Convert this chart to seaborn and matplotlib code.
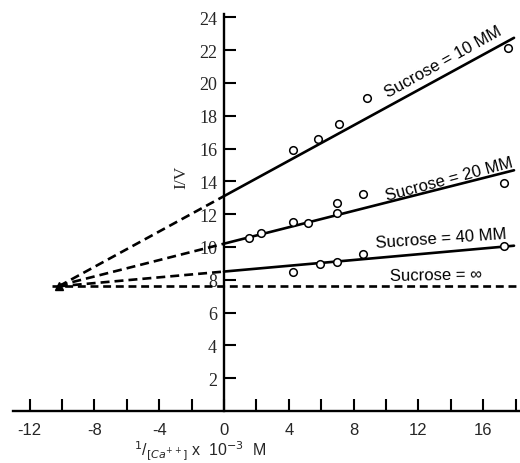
import matplotlib
matplotlib.use("Agg")
import matplotlib.pyplot as plt
from matplotlib.ticker import FixedLocator
import seaborn as sns
import numpy as np

# ---- data ----
series_names = ["Sucrose = 10 MM", "Sucrose = 20 MM", "Sucrose = 40 MM", "Sucrose = \u221e"]
intercepts = [13.1, 10.2, 8.5, 7.6]
slopes = [0.539, 0.25, 0.088, 0.0]
converge_x = -10.2
fit_x_end = 17.9
inf_x_start = -10.6
inf_x_end = 18.0

x_10 = [4.25, 5.8, 7.1, 8.8, 17.5]
y_10 = [15.9, 16.55, 17.5, 19.1, 22.1]
x_20 = [1.55, 2.3, 4.25, 5.2, 7.0, 7.0, 8.6, 17.3]
y_20 = [10.55, 10.85, 11.5, 11.45, 12.7, 12.1, 13.2, 13.9]
x_40 = [4.25, 5.9, 7.0, 8.6, 17.3]
y_40 = [8.45, 8.95, 9.1, 9.6, 10.05]

x_major = [-12, -8, -4, 0, 4, 8, 12, 16]
x_minor = [-10, -6, -2, 2, 6, 10, 14, 18]
y_ticks = [2, 4, 6, 8, 10, 12, 14, 16, 18, 20, 22, 24]

sns.set_style("white")
plt.rcParams["font.family"] = ["Liberation Sans", "DejaVu Sans"]
serif = ["Liberation Serif", "DejaVu Serif"]

fig = plt.figure(figsize=(5.2, 4.64), dpi=100)
ax = fig.add_axes([0.0, 52 / 464, 1.0, (412 - 15) / 464])
ax.set_xlim(-13.83, 18.27)
ax.set_ylim(0, 24.2)

lw = 1.9
dash = (3.4, 1.9)

# fitted lines (solid for x>=0, dashed extrapolation to convergence)
for b, m in zip(intercepts[:3], slopes[:3]):
    xs = np.array([0.0, fit_x_end])
    sns.lineplot(x=xs, y=b + m * xs, ax=ax, color="black", linewidth=lw, estimator=None)
    xd = np.array([converge_x, 0.0])
    sns.lineplot(x=xd, y=b + m * xd, ax=ax, color="black", linewidth=lw,
                 estimator=None).lines[-1].set_dashes(dash)

xi = np.array([inf_x_start, inf_x_end])
sns.lineplot(x=xi, y=intercepts[3] + slopes[3] * xi, ax=ax, color="black",
             linewidth=lw, estimator=None).lines[-1].set_dashes((3.0, 1.8))

# data points
for xs, ys in [(x_10, y_10), (x_20, y_20), (x_40, y_40)]:
    sns.scatterplot(x=xs, y=ys, ax=ax, marker="o", s=30, facecolor="white",
                    edgecolor="black", linewidth=1.1, zorder=5)

# small arrowhead-like mark at convergence
ax.plot([converge_x], [intercepts[3]], marker="^", color="black", markersize=6, zorder=6)

# series labels
label_pos = [(13.5, 21.3, 29), (13.9, 14.15, 15), (13.4, 10.55, 4), (13.1, 8.3, 1)]
for name, (tx, ty, rot) in zip(series_names, label_pos):
    ax.text(tx, ty, name, rotation=rot, rotation_mode="anchor", ha="center", va="center",
            fontsize=12, color="black")

# spines
for s in ["top", "right"]:
    ax.spines[s].set_visible(False)
ax.spines["left"].set_position(("data", 0))
ax.spines["bottom"].set_bounds(-13.0, 18.27)
for s in ["left", "bottom"]:
    ax.spines[s].set_linewidth(1.7)
    ax.spines[s].set_color("black")

ax.xaxis.set_major_locator(FixedLocator(x_major))
ax.xaxis.set_minor_locator(FixedLocator(x_minor))
ax.set_xticklabels([str(v) for v in x_major])
ax.tick_params(axis="x", which="both", direction="in", length=9, width=1.5, color="black",
               pad=8, labelsize=12, bottom=True)
ax.yaxis.set_major_locator(FixedLocator(y_ticks))
ax.set_yticklabels([str(v) for v in y_ticks], family=serif)
ax.tick_params(axis="y", which="both", direction="in", length=8.5, width=1.5, color="black",
               pad=5, labelsize=13, left=True)

ax.text(-2.65, 14.3, "I/V", rotation=90, ha="center", va="center", fontsize=12.5,
        family=serif)
fig.text(200 / 520, 1 - 451 / 464, r"$^{1}$/$_{[Ca^{++}]}$ x  10$^{-3}$  M",
         ha="center", va="center", fontsize=11.5)

fig.savefig("out.png", dpi=100)
